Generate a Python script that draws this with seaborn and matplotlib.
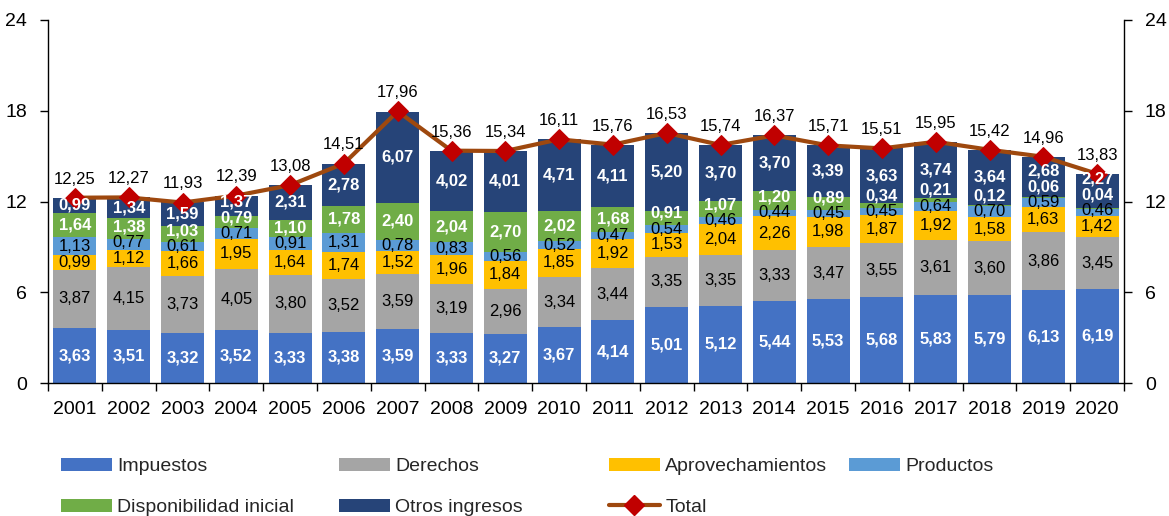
import numpy as np
import pandas as pd
import matplotlib
matplotlib.use('Agg')
import matplotlib.pyplot as plt
import seaborn as sns
from matplotlib.patches import Patch
from matplotlib.lines import Line2D

years = [str(y) for y in range(2001, 2021)]
impuestos = [3.63, 3.51, 3.32, 3.52, 3.33, 3.38, 3.59, 3.33, 3.27, 3.67,
             4.14, 5.01, 5.12, 5.44, 5.53, 5.68, 5.83, 5.79, 6.13, 6.19]
derechos = [3.87, 4.15, 3.73, 4.05, 3.80, 3.52, 3.59, 3.19, 2.96, 3.34,
            3.44, 3.35, 3.35, 3.33, 3.47, 3.55, 3.61, 3.60, 3.86, 3.45]
aprovechamientos = [0.99, 1.12, 1.66, 1.95, 1.64, 1.74, 1.52, 1.96, 1.84, 1.85,
                    1.92, 1.53, 2.04, 2.26, 1.98, 1.87, 1.92, 1.58, 1.63, 1.42]
productos = [1.13, 0.77, 0.61, 0.71, 0.91, 1.31, 0.78, 0.83, 0.56, 0.52,
             0.47, 0.54, 0.46, 0.44, 0.45, 0.45, 0.64, 0.70, 0.59, 0.46]
disponibilidad = [1.64, 1.38, 1.03, 0.79, 1.10, 1.78, 2.40, 2.04, 2.70, 2.02,
                  1.68, 0.91, 1.07, 1.20, 0.89, 0.34, 0.21, 0.12, 0.06, 0.04]
otros = [0.99, 1.34, 1.59, 1.37, 2.31, 2.78, 6.07, 4.02, 4.01, 4.71,
         4.11, 5.20, 3.70, 3.70, 3.39, 3.63, 3.74, 3.64, 2.68, 2.27]
total = [12.25, 12.27, 11.93, 12.39, 13.08, 14.51, 17.96, 15.36, 15.34, 16.11,
         15.76, 16.53, 15.74, 16.37, 15.71, 15.51, 15.95, 15.42, 14.96, 13.83]

series_names = ["Impuestos", "Derechos", "Aprovechamientos", "Productos",
                "Disponibilidad inicial", "Otros ingresos"]
series_vals = [impuestos, derechos, aprovechamientos, productos, disponibilidad, otros]
series_colors = ["#4472C4", "#A5A5A5", "#FFC000", "#5B9BD5", "#70AD47", "#264478"]
white_label = [True, False, False, False, True, True]

sns.set_theme(style="white")
plt.rcParams['font.family'] = ['Liberation Sans', 'DejaVu Sans']

W, H = 1169, 516
fig = plt.figure(figsize=(W / 100, H / 100), dpi=100)
ax = fig.add_axes([48 / W, 1 - 383 / H, (1124 - 48) / W, (383 - 20) / H])

stack = np.array(series_vals)
cum = np.cumsum(stack, axis=0)
n = len(years)

# stacked bars: draw cumulative totals from top down
for i in reversed(range(len(series_names))):
    df = pd.DataFrame({"year": years, "v": cum[i]})
    sns.barplot(data=df, x="year", y="v", color=series_colors[i], saturation=1,
                width=0.8, errorbar=None, linewidth=0, ax=ax, order=years)

# segment labels (centered, pushed up when too close to the label below)
for j in range(n):
    prev = -np.inf
    bottom = 0.0
    for i in range(len(series_names)):
        v = stack[i, j]
        y = max(bottom + v / 2, prev + 1.05)
        prev = y
        bottom += v
        txt = f"{v:.2f}".replace('.', ',')
        if white_label[i]:
            ax.text(j, y, txt, ha='center', va='center', color='white',
                    fontsize=12, fontweight='bold', zorder=5)
        else:
            ax.text(j, y, txt, ha='center', va='center', color='black',
                    fontsize=12, zorder=5)

# total line
sns.lineplot(x=np.arange(n), y=total, color="#9E480E", linewidth=3, marker='D',
             markersize=10, markerfacecolor="#C00000", markeredgecolor="#C00000",
             ax=ax, zorder=4)
for j in range(n):
    ax.annotate(f"{total[j]:.2f}".replace('.', ','), (j, total[j]),
                xytext=(0, 8), textcoords='offset points', ha='center',
                va='bottom', fontsize=12, color='black', zorder=6)

ax.set_xlim(-0.5, n - 0.5)
ax.set_ylim(0, 24)
ax.set_yticks([0, 6, 12, 18, 24])
ax.set_xlabel("")
ax.set_ylabel("")
ax.set_xticks(np.arange(n))
ax.set_xticklabels(years)
ax.set_xticks(np.arange(-0.5, n, 1), minor=True)
ax.tick_params(axis='x', which='major', length=0, pad=13, labelsize=14, colors='black')
ax.tick_params(axis='x', which='minor', length=6, width=1, bottom=True, color='black')
ax.tick_params(axis='y', which='major', left=True, length=6, width=1, pad=9,
               labelsize=14, colors='black', direction='out')
for s in ['top', 'right']:
    ax.spines[s].set_visible(False)
for s in ['left', 'bottom']:
    ax.spines[s].set_color('black')
    ax.spines[s].set_linewidth(1)

ax2 = ax.twinx()
ax2.set_ylim(0, 24)
ax2.set_yticks([0, 6, 12, 18, 24])
ax2.tick_params(axis='y', right=True, length=6, width=1, pad=9, labelsize=14,
                colors='black', direction='out')
ax2.grid(False)
for s in ['top', 'left', 'bottom']:
    ax2.spines[s].set_visible(False)
ax2.spines['right'].set_color('black')
ax2.spines['right'].set_linewidth(1)
ax.grid(False)

# legend in 4 columns placed individually
patches = [Patch(facecolor=c, edgecolor='none') for c in series_colors]
total_handle = Line2D([0], [0], color="#9E480E", linewidth=3, marker='D',
                      markersize=10, markerfacecolor="#C00000", markeredgecolor="#C00000")
columns = [
    ([patches[0], patches[4]], [series_names[0], series_names[4]], 61),
    ([patches[1], patches[5]], [series_names[1], series_names[5]], 339),
    ([patches[2], total_handle], [series_names[2], "Total"], 609),
    ([patches[3]], [series_names[3]], 849),
]
for hs, ls, xpx in columns:
    fig.legend(hs, ls, loc='upper left', bbox_to_anchor=(xpx / W, 1 - 458 / H),
               frameon=False, fontsize=14, borderpad=0, borderaxespad=0,
               handlelength=2.6, handleheight=0.65, handletextpad=0.3,
               labelspacing=1.2)

fig.savefig("out.png", dpi=100)
